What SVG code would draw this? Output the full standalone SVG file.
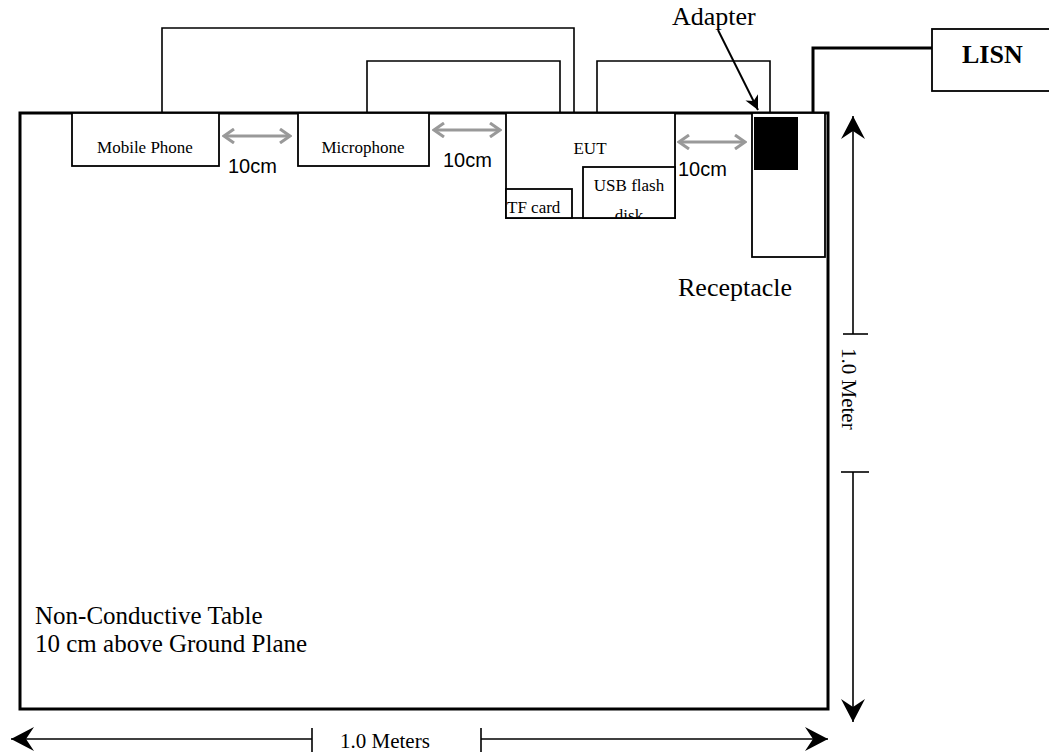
<svg xmlns="http://www.w3.org/2000/svg" width="1049" height="755" viewBox="0 0 1049 755">
<style>
.box{fill:#fff;stroke:#000;stroke-width:1.8}
.wire{fill:none;stroke:#000;stroke-width:1.6}
.sm{font-family:"Liberation Serif","Times New Roman",serif;font-size:17px;fill:#000}
.lg{font-family:"Liberation Serif","Times New Roman",serif;font-size:26px;fill:#000}
.tb{font-family:"Liberation Serif","Times New Roman",serif;font-size:25px;fill:#000}
.dim{font-family:"Liberation Serif","Times New Roman",serif;font-size:21px;fill:#000}
.cm{font-family:"Liberation Sans",Arial,sans-serif;font-size:20px;fill:#000}
.gray{fill:none;stroke:#999;stroke-width:3}
.dl{fill:none;stroke:#000;stroke-width:1.6}
</style>
<defs>
<marker id="g" viewBox="-12 -8 14 16" refX="0" refY="0" markerWidth="14" markerHeight="16" markerUnits="userSpaceOnUse" orient="auto-start-reverse">
<path d="M-10,-7 L0,0 L-10,7" fill="none" stroke="#999" stroke-width="3"/>
</marker>
<marker id="b" viewBox="-24 -13 25 26" refX="0" refY="0" markerWidth="25" markerHeight="26" markerUnits="userSpaceOnUse" orient="auto-start-reverse">
<path d="M0,0 L-23,-12 L-15,0 L-23,12 Z" fill="#000"/>
</marker>
<marker id="a" viewBox="-15 -8 16 16" refX="0" refY="0" markerWidth="16" markerHeight="16" markerUnits="userSpaceOnUse" orient="auto">
<path d="M0,0 L-14,-7 L-10,0 L-14,7 Z" fill="#000"/>
</marker>
<clipPath id="usbclip"><rect x="583" y="167" width="92" height="51"/></clipPath>
</defs>

<g id="table">
<rect x="20" y="113" width="808" height="596" fill="#fff" stroke="#000" stroke-width="3"/>
<text class="tb" x="35" y="624">Non-Conductive Table</text>
<text class="tb" x="35" y="652">10 cm above Ground Plane</text>
</g>

<g id="connectors">
<polyline class="wire" points="162,113 162,28 574,28 574,113"/>
<polyline class="wire" points="367,113 367,61 560,61 560,113"/>
<polyline class="wire" points="597,113 597,61 770,61 770,113"/>
<polyline fill="none" stroke="#000" stroke-width="3" points="813,113 813,48 932,48"/>
<line class="gray" x1="224" y1="136" x2="290" y2="136" marker-start="url(#g)" marker-end="url(#g)"/>
<line class="gray" x1="434" y1="130" x2="500" y2="130" marker-start="url(#g)" marker-end="url(#g)"/>
<line class="gray" x1="679" y1="142" x2="745" y2="142" marker-start="url(#g)" marker-end="url(#g)"/>
<line x1="718" y1="30" x2="758" y2="110" stroke="#000" stroke-width="2" marker-end="url(#a)"/>
</g>

<g id="mobile-phone">
<rect class="box" x="72" y="113" width="147" height="53"/>
<text class="sm" x="145" y="153" text-anchor="middle">Mobile Phone</text>
</g>
<g id="microphone">
<rect class="box" x="298" y="113" width="131" height="53"/>
<text class="sm" x="363" y="153" text-anchor="middle">Microphone</text>
</g>
<g id="eut">
<rect class="box" x="506" y="113" width="169" height="105"/>
<text class="sm" x="590" y="154" text-anchor="middle">EUT</text>
</g>
<g id="tf-card">
<rect class="box" x="506" y="189" width="66" height="29"/>
<text class="sm" x="507" y="213">TF card</text>
</g>
<g id="usb-flash-disk">
<rect class="box" x="583" y="167" width="92" height="51"/>
<text class="sm" x="629" y="191" text-anchor="middle">USB flash</text>
<text class="sm" x="629" y="221" text-anchor="middle" clip-path="url(#usbclip)">disk</text>
</g>
<g id="receptacle">
<rect class="box" x="752" y="113" width="73" height="144" stroke-width="1.5"/>
<rect x="754" y="117" width="44" height="53" fill="#000"/>
<text class="lg" x="678" y="296">Receptacle</text>
</g>
<g id="adapter">
<text class="lg" x="672" y="25">Adapter</text>
</g>
<g id="lisn">
<rect class="box" x="932" y="29" width="122" height="62"/>
<text class="lg" x="962" y="63" font-weight="bold" font-size="25">LISN</text>
</g>

<g id="spacing-labels">
<text class="cm" x="228" y="173">10cm</text>
<text class="cm" x="443" y="167">10cm</text>
<text class="cm" x="678" y="176">10cm</text>
</g>

<g id="dimensions">
<line class="dl" x1="853" y1="334" x2="853" y2="116" marker-end="url(#b)"/>
<line class="dl" x1="843" y1="334" x2="868" y2="334"/>
<line class="dl" x1="853" y1="472" x2="853" y2="722" marker-end="url(#b)"/>
<line class="dl" x1="841" y1="472" x2="869" y2="472"/>
<text class="dim" transform="translate(842,348) rotate(90)">1.0 Meter</text>
<line class="dl" x1="312" y1="739" x2="11" y2="739" marker-end="url(#b)"/>
<line class="dl" x1="312" y1="728" x2="312" y2="752"/>
<line class="dl" x1="481" y1="739" x2="828" y2="739" marker-end="url(#b)"/>
<line class="dl" x1="481" y1="728" x2="481" y2="752"/>
<text class="dim" x="340" y="748">1.0 Meters</text>
</g>
</svg>
